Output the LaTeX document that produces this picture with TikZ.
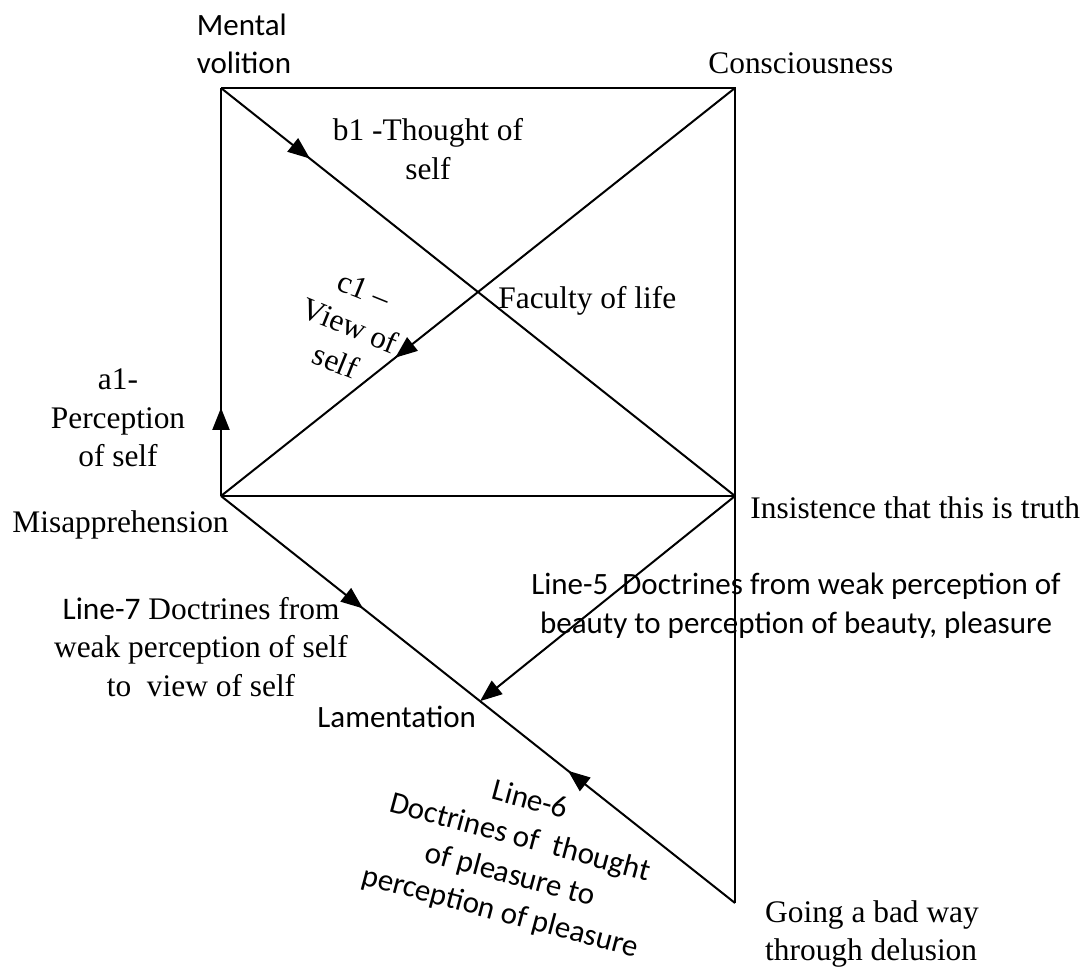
\documentclass[tikz,border=0pt]{standalone}
\usepackage{fontspec}
\setmainfont{Liberation Serif}
\newfontfamily\calibfont{Carlito}
\usetikzlibrary{arrows.meta,decorations.markings,calc}

\tikzset{
  lbl/.style={inner sep=0pt, font=\fontsize{15.7}{19.3}\selectfont},
  slbl/.style={inner sep=0pt, font=\calibfont\fontsize{15.5}{19.3}\selectfont},
  sideline/.style={line width=1pt, black},
  midarrow/.style={sideline, postaction={decorate},
    decoration={markings, mark=at position #1 with {\arrow{Triangle[length=11pt,width=8.5pt]}}}}
}

\begin{document}
\begin{tikzpicture}[x=0.5pt,y=-0.5pt]
\useasboundingbox (0,0) rectangle (1089,970);

% corners of the figure
\coordinate (vol) at (221,88);
\coordinate (con) at (735,88);
\coordinate (mis) at (221,496);
\coordinate (ins) at (735,496);
\coordinate (gob) at (735,903);
\coordinate (lam) at ($(mis)!0.504!(gob)$);

% square and its diagonals
\draw[sideline] (mis) -- (ins) -- (con) -- (vol);
\draw[sideline] (ins) -- (gob);
\draw[midarrow=0.216] (mis) -- (vol);
\draw[midarrow=0.173] (vol) -- (ins);
\draw[midarrow=0.661] (con) -- (mis);

% lower triangle
\draw[midarrow=0.548] (mis) -- (lam);
\draw[midarrow=0.655] (gob) -- (lam);
\draw[sideline,-{Triangle[length=11pt,width=8.5pt]}] (ins) -- (lam);

% corner labels
\node[slbl, align=left] (vollbl) at (244,44) {Mental\\volition};
\node[lbl, anchor=base west] (conlbl) at (708,73) {Consciousness};
\node[lbl, anchor=base west] (mislbl) at (12,532) {Misapprehension};
\node[lbl, anchor=base west] (inslbl) at (750,518) {Insistence that this is truth};
\node[slbl, anchor=base west] (lamlbl) at (317,727) {Lamentation};
\node[lbl, align=left] (goblbl) at (872,934) {Going a bad way\\through delusion};
\node[lbl, anchor=base west] (faclbl) at (498,308) {Faculty of life};

% line labels
\node[lbl, align=center] (b1lbl) at (428,149) {b1 -Thought of\\self};
\node[lbl, align=center, rotate=-22] (c1lbl) at (350,326) {c1 --\\View of\\self};
\node[lbl, align=center] (a1lbl) at (118,418) {a1-\\Perception\\of self};
\node[slbl, align=center] (l5lbl) at (796,606) {Line-5\ \ Doctrines from weak perception of\\beauty to perception of beauty, pleasure};
\node[lbl, align=center] (l7lbl) at (201,647) {{\calibfont Line-7} Doctrines from\\weak perception of self\\to\ \ view of self};
\node[slbl, align=center, rotate=-15] (l6lbl) at (515,857) {Line-6\\Doctrines of\ \ thought\\of pleasure to\\perception of pleasure};

\end{tikzpicture}
\end{document}
